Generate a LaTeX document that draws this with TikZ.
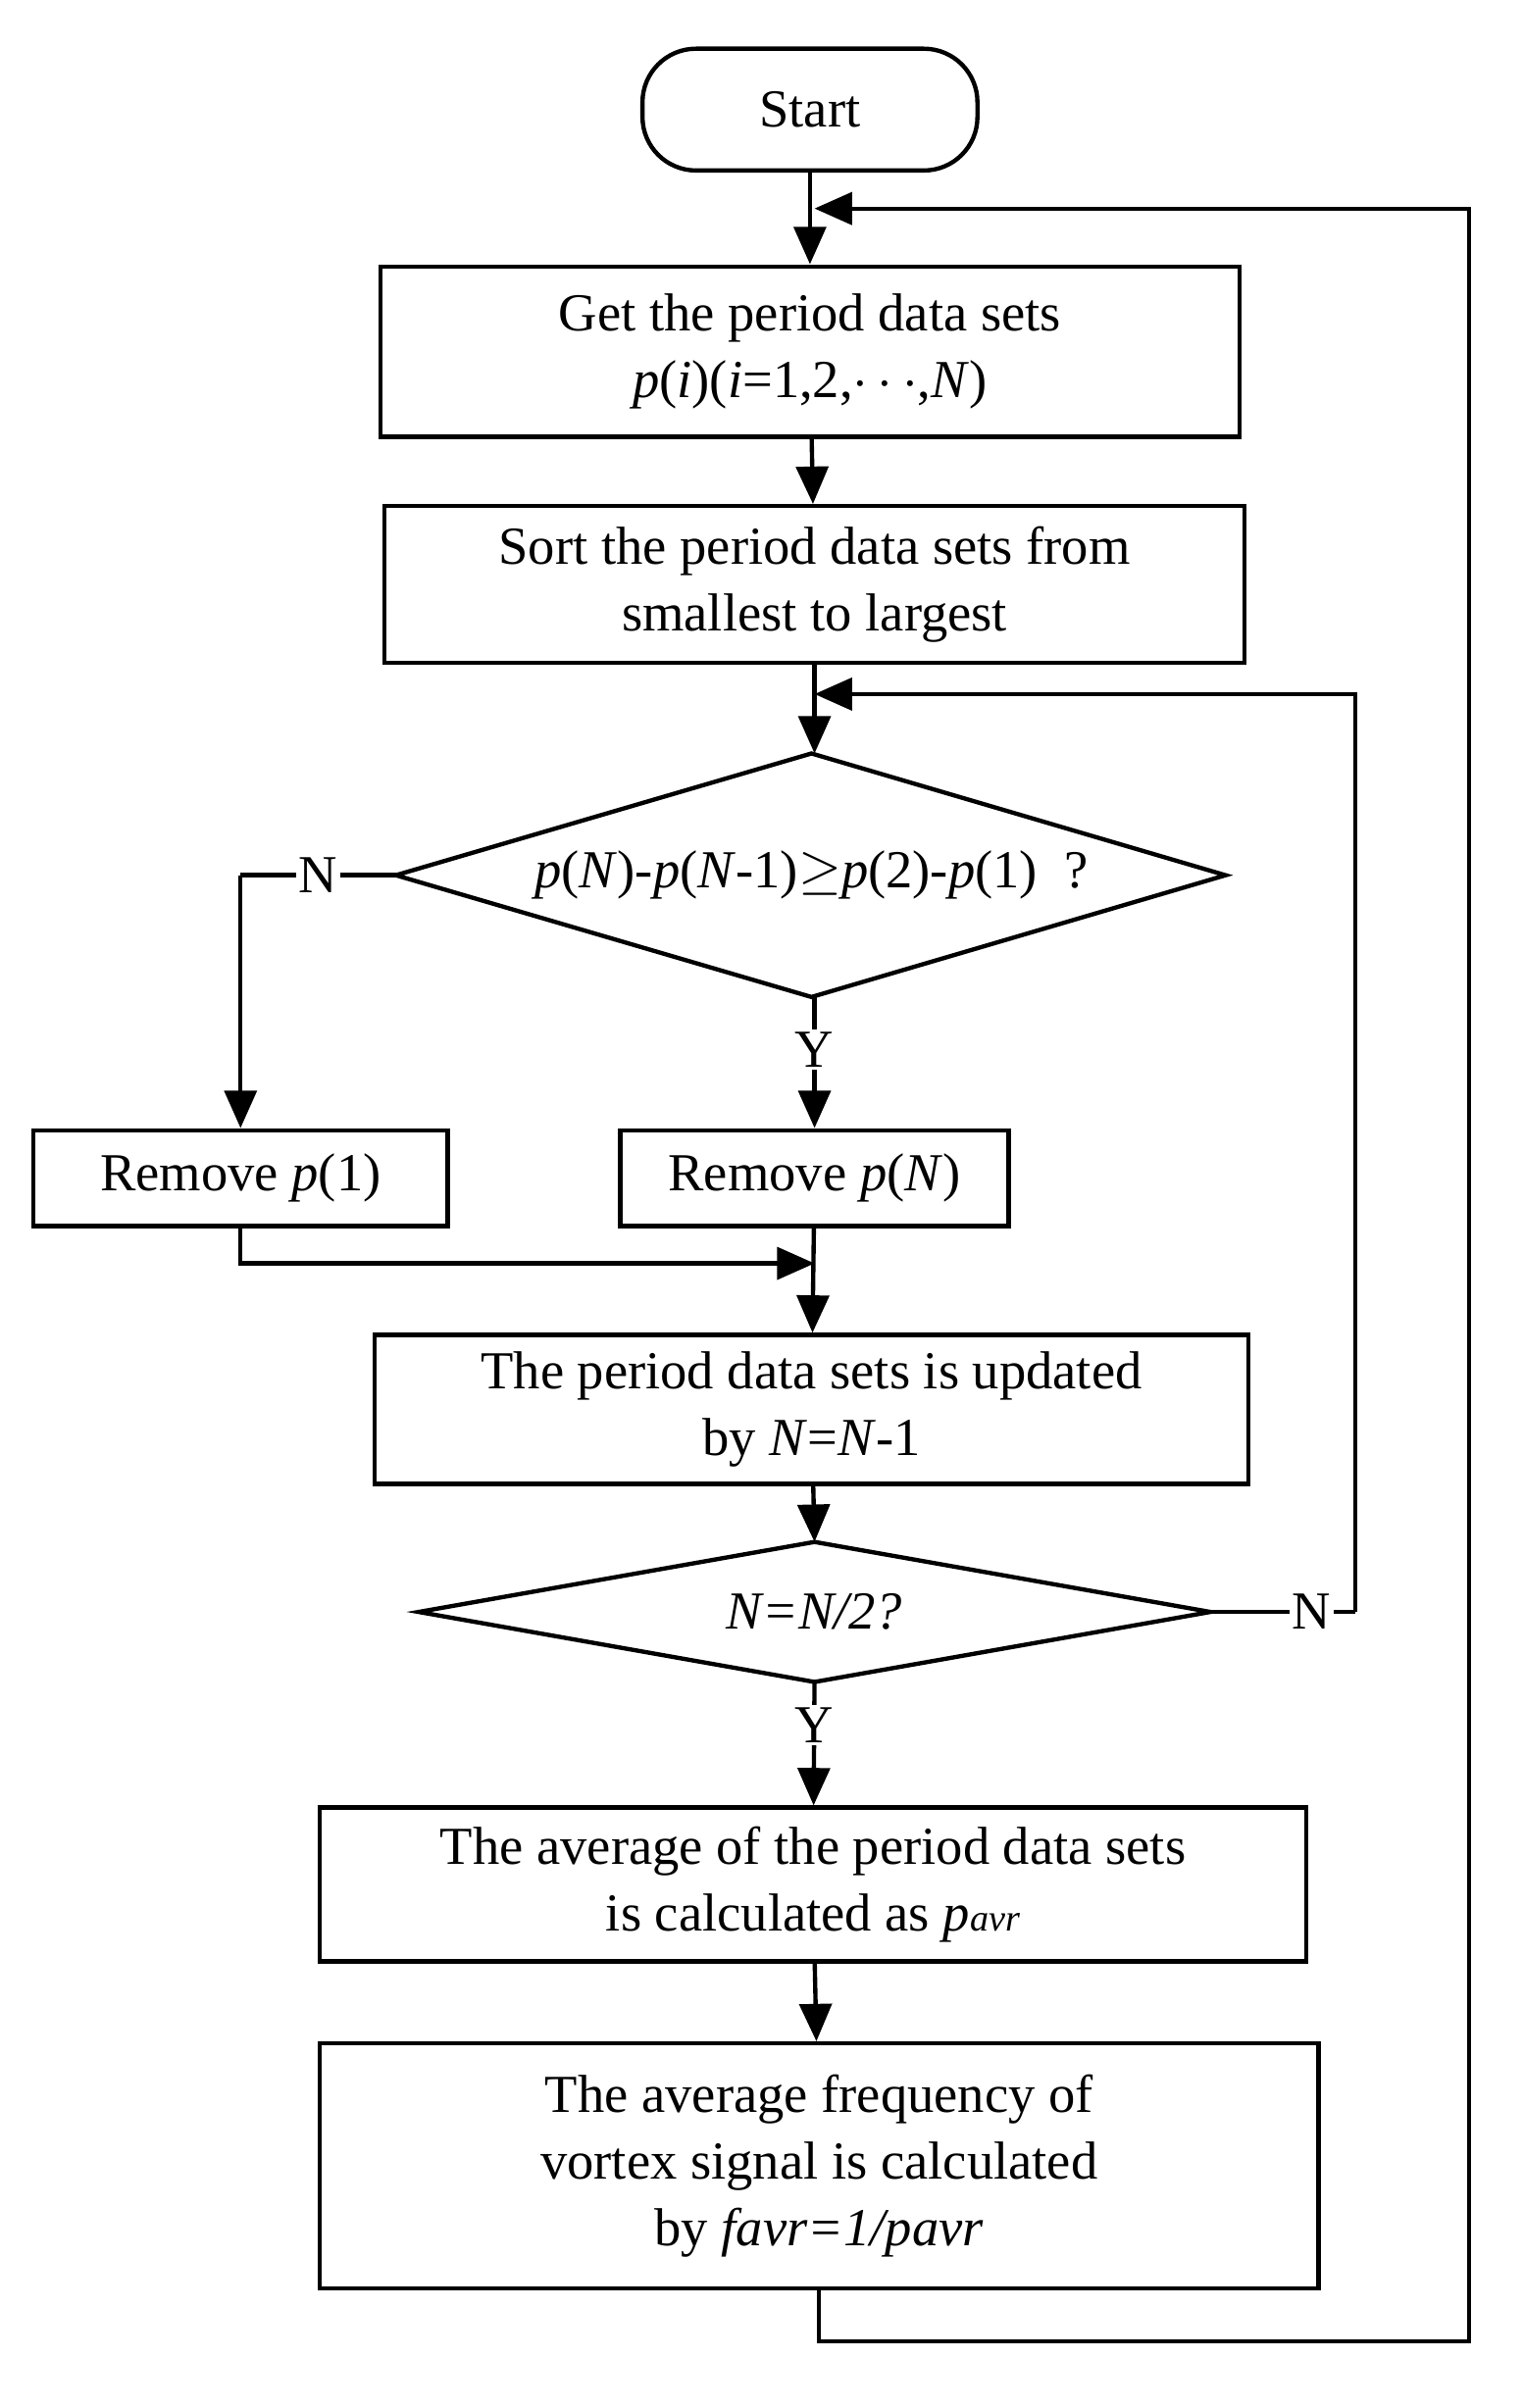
\documentclass[tikz,border=0pt]{standalone}
\usepackage{fontspec}
\setmainfont{Liberation Serif}
\usetikzlibrary{arrows.meta,shapes.geometric}
\begin{document}
\begin{tikzpicture}[x=0.02cm,y=-0.02cm,
  every node/.style={font=\fontsize{20}{25}\selectfont},
  box/.style={draw,line width=1.6pt,inner sep=0pt,align=center},
  ln/.style={line width=1.6pt},
  ar/.style={line width=1.6pt,-{Triangle[length=14pt,width=12pt]}},
  lab/.style={fill=white,inner sep=1pt}]
\useasboundingbox (0,0) rectangle (1000,1582);
\node[box,rounded corners=20pt,minimum width=220*0.02cm,minimum height=80*0.02cm] (start) at (532,72) {Start};
\node[box,minimum width=564*0.02cm,minimum height=112*0.02cm] (b1) at (532,231) {Get the period data sets\\ \textit{p}(\textit{i})(\textit{i}=1,2,$\cdots$,\textit{N})};
\node[box,minimum width=565*0.02cm,minimum height=103*0.02cm] (b2) at (535,384) {Sort the period data sets from\\smallest to largest};
\draw[ln] (260,575) -- (533,495) -- (805,575) -- (533,655) -- cycle;
\node (d1) at (533,575) {\textit{p}(\textit{N})-\textit{p}(\textit{N}-1)$\geq$\\ \textit{p}(2)-\textit{p}(1)\ \ ?};
\node[box,minimum width=272*0.02cm,minimum height=63*0.02cm] (r1) at (158,774) {Remove \textit{p}(1)};
\node[box,minimum width=255*0.02cm,minimum height=63*0.02cm] (rN) at (535,774) {Remove \textit{p}(\textit{N})};
\node[box,minimum width=574*0.02cm,minimum height=98*0.02cm] (b3) at (533,926) {The period data sets is updated\\by \textit{N}=\textit{N}-1};
\draw[ln] (275,1059) -- (535,1013) -- (795,1059) -- (535,1105) -- cycle;
\node (d2) at (535,1059) {\textit{N=N/2?}};
\node[box,minimum width=648*0.02cm,minimum height=101*0.02cm] (b4) at (534,1238) {The average of the period data sets\\is calculated as \textit{p}{\fontsize{14}{14}\selectfont\textit{avr}}};
\node[box,minimum width=656*0.02cm,minimum height=161*0.02cm] (b5) at (538,1423) {The average frequency of\\vortex signal is calculated\\by \textit{favr=1/pavr}};
\coordinate (j1) at (535,137);
\coordinate (j2) at (535,456);
\coordinate (j3) at (535,830);
\draw[ar] (start) -- (b1);
\draw[ar] (b1) -- (b2);
\draw[ar] (535,435) -- (535,495);
\draw[ln] (260,575) -- (158,575) node[lab,pos=0.5] {N};
\draw[ar] (158,575) -- (r1);
\draw[ar] (535,655) -- (rN) node[lab,pos=0.4] {Y};
\draw[ar] (r1) |- (j3);
\draw[ar] (rN) -- (b3);
\draw[ar] (b3) -- (535,1013);
\draw[ln] (795,1059) -- (890,1059) node[lab,pos=0.7] {N};
\draw[ar] (890,1059) |- (j2);
\draw[ar] (535,1105) -- (b4) node[lab,pos=0.35] {Y};
\draw[ar] (b4) -- (b5);
\draw[ar] (b5.south) -- (538,1538) -- (965,1538) |- (j1);
\end{tikzpicture}
\end{document}
